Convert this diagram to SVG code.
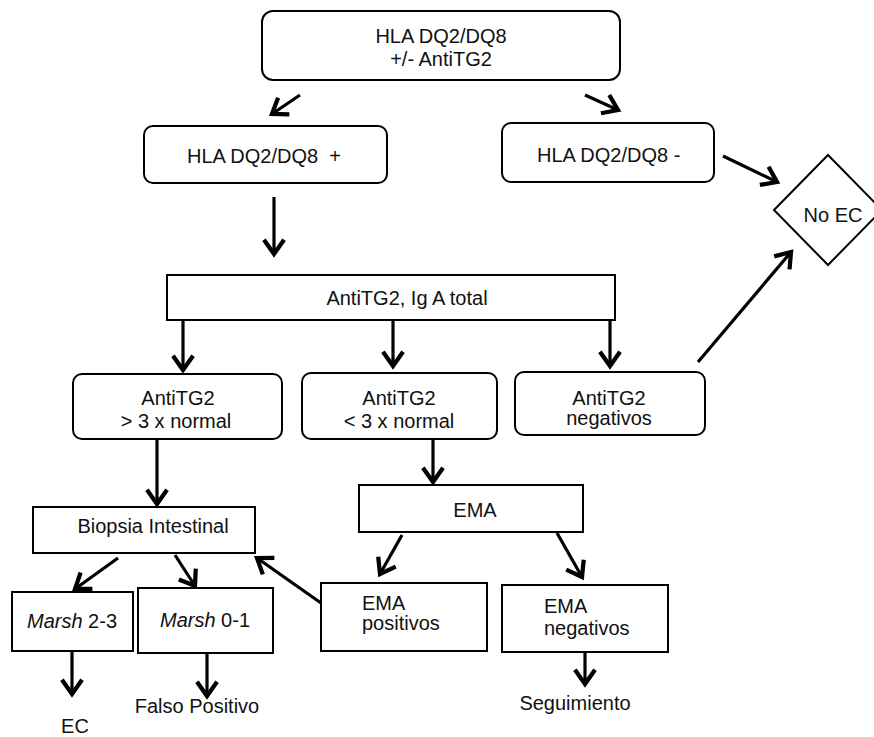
<svg xmlns="http://www.w3.org/2000/svg" width="874" height="737" viewBox="0 0 874 737">
<defs>
<style>
.box{fill:#fff;stroke:#000;stroke-width:2}
.t{font-family:"Liberation Sans",Arial,sans-serif;font-size:20px;fill:#111}
.c{text-anchor:middle}
.ln{stroke:#000;stroke-width:3.2;fill:none;marker-end:url(#ah)}
</style>
<marker id="ah" markerUnits="userSpaceOnUse" markerWidth="26" markerHeight="26" viewBox="-14 -11 18 22" refX="0" refY="0" orient="auto">
<path d="M-12,-8.5 L0,0 L-12,8.5" fill="none" stroke="#000" stroke-width="3.6" stroke-linejoin="miter"/>
</marker>
</defs>
<rect width="874" height="737" fill="#fff"/>

<g id="connectors">
<line class="ln" x1="300" y1="95" x2="272" y2="114"/>
<line class="ln" x1="585" y1="95" x2="618" y2="110"/>
<line class="ln" x1="723" y1="156" x2="777" y2="182"/>
<line class="ln" x1="274" y1="197" x2="274" y2="254"/>
<line class="ln" x1="183" y1="320" x2="183" y2="370"/>
<line class="ln" x1="393" y1="320" x2="393" y2="366"/>
<line class="ln" x1="610" y1="320" x2="610" y2="366"/>
<line class="ln" x1="698" y1="362" x2="791" y2="252"/>
<line class="ln" x1="157" y1="440" x2="157" y2="504"/>
<line class="ln" x1="433" y1="440" x2="433" y2="482"/>
<line class="ln" x1="402" y1="535" x2="380" y2="574"/>
<line class="ln" x1="557" y1="533" x2="582" y2="577"/>
<line class="ln" x1="321" y1="603" x2="257" y2="558"/>
<line class="ln" x1="118" y1="558" x2="75" y2="589"/>
<line class="ln" x1="175" y1="555" x2="195" y2="586"/>
<line class="ln" x1="72" y1="651" x2="72" y2="694"/>
<line class="ln" x1="207" y1="653" x2="207" y2="696"/>
<line class="ln" x1="585" y1="652" x2="585" y2="684"/>
</g>

<g id="n-top">
<rect class="box" x="262" y="11" width="358" height="69" rx="11"/>
<text class="t c" x="441" y="43">HLA DQ2/DQ8</text>
<text class="t c" x="441" y="66">+/- AntiTG2</text>
</g>
<g id="n-hla-pos">
<rect class="box" x="144" y="126" width="243" height="57" rx="9"/>
<text class="t" x="187" y="163" xml:space="preserve">HLA DQ2/DQ8  +</text>
</g>
<g id="n-hla-neg">
<rect class="box" x="502" y="123" width="212" height="59" rx="9"/>
<text class="t" x="537" y="162">HLA DQ2/DQ8 -</text>
</g>
<g id="n-noec">
<polygon class="box" points="774,210 828,155 882,210 828,265"/>
<text class="t c" x="833" y="222">No EC</text>
</g>
<g id="n-antitg2">
<rect class="box" x="167" y="275" width="448" height="45"/>
<text class="t c" x="407" y="305">AntiTG2, Ig A total</text>
</g>
<g id="n-gt3">
<rect class="box" x="73" y="374" width="209" height="65" rx="9"/>
<text class="t c" x="178" y="405">AntiTG2</text>
<text class="t c" x="176" y="428">&gt; 3 x normal</text>
</g>
<g id="n-lt3">
<rect class="box" x="302" y="373" width="195" height="66" rx="9"/>
<text class="t c" x="399" y="405">AntiTG2</text>
<text class="t c" x="399" y="428">&lt; 3 x normal</text>
</g>
<g id="n-neg">
<rect class="box" x="515" y="372" width="190" height="63" rx="9"/>
<text class="t c" x="609" y="405">AntiTG2</text>
<text class="t c" x="609" y="425">negativos</text>
</g>
<g id="n-biopsia">
<rect class="box" x="33" y="507" width="222" height="46"/>
<text class="t c" x="153" y="533">Biopsia Intestinal</text>
</g>
<g id="n-ema">
<rect class="box" x="359" y="485" width="224" height="47"/>
<text class="t c" x="475" y="517">EMA</text>
</g>
<g id="n-marsh23">
<rect class="box" x="12" y="592" width="121" height="59"/>
<text class="t c" x="72" y="628"><tspan font-style="italic">Marsh</tspan> 2-3</text>
</g>
<g id="n-marsh01">
<rect class="box" x="138" y="588" width="135" height="65"/>
<text class="t c" x="205" y="627"><tspan font-style="italic">Marsh</tspan> 0-1</text>
</g>
<g id="n-emapos">
<rect class="box" x="321" y="583" width="166" height="68"/>
<text class="t" x="362" y="610">EMA</text>
<text class="t" x="362" y="630">positivos</text>
</g>
<g id="n-emaneg">
<rect class="box" x="502" y="585" width="166" height="67"/>
<text class="t" x="544" y="613">EMA</text>
<text class="t" x="544" y="635">negativos</text>
</g>
<g id="n-ec">
<text class="t c" x="75" y="733">EC</text>
</g>
<g id="n-falso">
<text class="t c" x="197" y="713">Falso Positivo</text>
</g>
<g id="n-seg">
<text class="t c" x="575" y="710">Seguimiento</text>
</g>
</svg>
